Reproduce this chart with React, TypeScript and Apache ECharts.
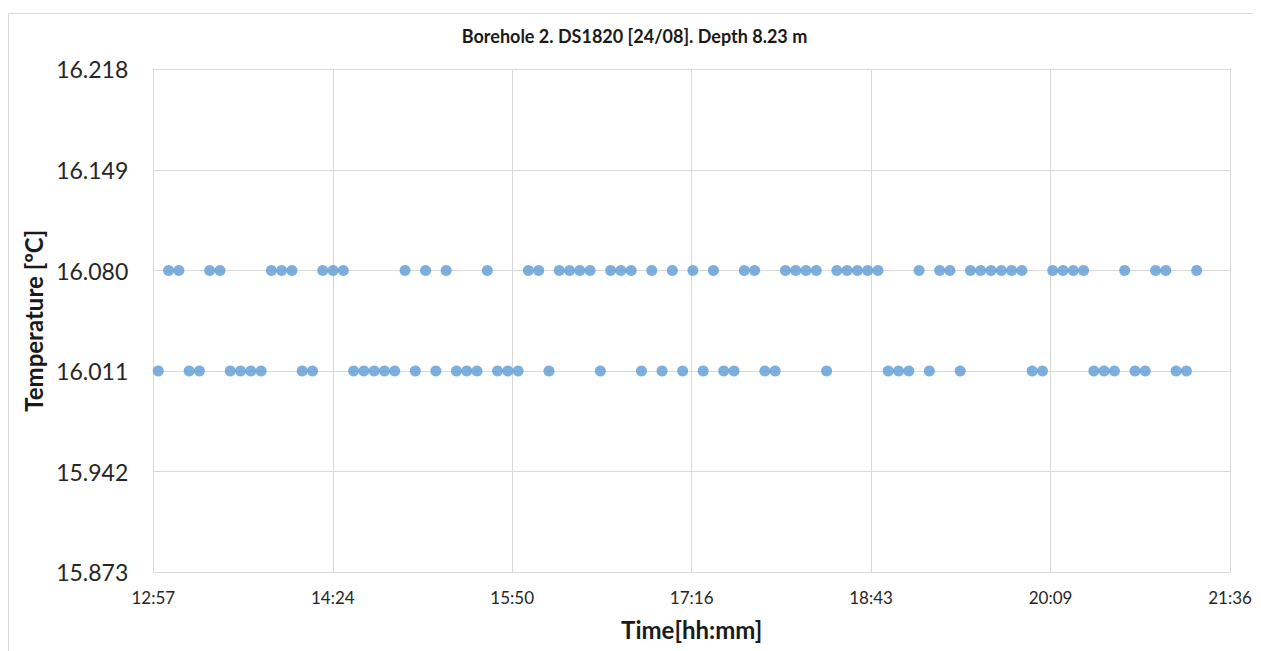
import React, { useEffect, useRef } from "react";
import * as echarts from "echarts";

const chartTitle = "Borehole 2. DS1820 [24/08]. Depth 8.23 m";
const xAxisTitle = "Time[hh:mm]";
const yAxisTitle = "Temperature [ºC]";

// Axis definitions (x in minutes after midnight, y in °C)
const xMinMinutes = 777.6; // 12:57
const xMaxMinutes = 1296; // 21:36
const xStepMinutes = 86.4;
const yMin = 15.873;
const yMax = 16.218;
const yStep = 0.069;

// Reading times
const times = [
  "13:00:00", "13:04:57", "13:09:54", "13:14:51", "13:19:48", "13:24:45", "13:29:42", "13:34:39", "13:39:36", "13:44:33",
  "13:49:30", "13:54:27", "13:59:24", "14:04:21", "14:09:18", "14:14:15", "14:19:12", "14:24:09", "14:29:06", "14:34:03",
  "14:39:00", "14:43:57", "14:48:54", "14:53:51", "14:58:48", "15:03:45", "15:08:42", "15:13:39", "15:18:36", "15:23:33",
  "15:28:30", "15:33:27", "15:38:24", "15:43:21", "15:48:18", "15:53:15", "15:58:12", "16:03:09", "16:08:06", "16:13:03",
  "16:18:00", "16:22:57", "16:27:54", "16:32:51", "16:37:48", "16:42:45", "16:47:42", "16:52:39", "16:57:36", "17:02:33",
  "17:07:30", "17:12:27", "17:17:24", "17:22:21", "17:27:18", "17:32:15", "17:37:12", "17:42:09", "17:47:06", "17:52:03",
  "17:57:00", "18:01:57", "18:06:54", "18:11:51", "18:16:48", "18:21:45", "18:26:42", "18:31:39", "18:36:36", "18:41:33",
  "18:46:30", "18:51:27", "18:56:24", "19:01:21", "19:06:18", "19:11:15", "19:16:12", "19:21:09", "19:26:06", "19:31:03",
  "19:36:00", "19:40:57", "19:45:54", "19:50:51", "19:55:48", "20:00:45", "20:05:42", "20:10:39", "20:15:36", "20:20:33",
  "20:25:30", "20:30:27", "20:35:24", "20:40:21", "20:45:18", "20:50:15", "20:55:12", "21:00:09", "21:05:06", "21:10:03",
  "21:15:00", "21:19:57",
];

// Temperatures (°C)
const temps = [
  16.011, 16.080, 16.080, 16.011, 16.011, 16.080, 16.080, 16.011, 16.011, 16.011,
  16.011, 16.080, 16.080, 16.080, 16.011, 16.011, 16.080, 16.080, 16.080, 16.011,
  16.011, 16.011, 16.011, 16.011, 16.080, 16.011, 16.080, 16.011, 16.080, 16.011,
  16.011, 16.011, 16.080, 16.011, 16.011, 16.011, 16.080, 16.080, 16.011, 16.080,
  16.080, 16.080, 16.080, 16.011, 16.080, 16.080, 16.080, 16.011, 16.080, 16.011,
  16.080, 16.011, 16.080, 16.011, 16.080, 16.011, 16.011, 16.080, 16.080, 16.011,
  16.011, 16.080, 16.080, 16.080, 16.080, 16.011, 16.080, 16.080, 16.080, 16.080,
  16.080, 16.011, 16.011, 16.011, 16.080, 16.011, 16.080, 16.080, 16.011, 16.080,
  16.080, 16.080, 16.080, 16.080, 16.080, 16.011, 16.011, 16.080, 16.080, 16.080,
  16.080, 16.011, 16.011, 16.011, 16.080, 16.011, 16.011, 16.080, 16.080, 16.011,
  16.011, 16.080,
];

// x is stored in tenths of a minute, y in thousandths of a degree above yMin
const toX = (t: string) => {
  const [h, m, s] = t.split(":").map(Number);
  return (h * 60 + m + s / 60) * 10;
};
const toY = (v: number) => Math.round(v * 1000 - yMin * 1000);

const fmtTime = (v: number) => {
  const tenths = Math.round(v);
  const mins = Math.floor(tenths / 10);
  const h = Math.floor(mins / 60);
  const m = mins % 60;
  return `${h}:${m < 10 ? "0" : ""}${m}`;
};

const FONT = "Lato, 'Open Sans', sans-serif";
const GRID = "#d9d9d9";

export default function App() {
  const ref = useRef<HTMLDivElement>(null);
  useEffect(() => {
    if (!ref.current) return;
    const chart = echarts.init(ref.current, undefined, { renderer: "svg" });
    const data = times.map((t, i) => [toX(t), toY(temps[i])]);
    chart.setOption({
      animation: false,
      backgroundColor: "#ffffff",
      textStyle: { fontFamily: FONT },
      title: {
        text: chartTitle,
        left: "center",
        top: 14,
        textStyle: { fontFamily: FONT, fontSize: 18, fontWeight: "bold", color: "#1a1a1a" },
      },
      graphic: [
        {
          type: "line",
          shape: { x1: 0.5, y1: 5.5, x2: 1253, y2: 5.5 },
          style: { stroke: GRID, lineWidth: 1 },
          silent: true,
        },
        {
          type: "line",
          shape: { x1: 0.5, y1: 5.5, x2: 0.5, y2: 643 },
          style: { stroke: GRID, lineWidth: 1 },
          silent: true,
        },
      ],
      grid: {
        left: 145.3,
        right: 31,
        top: 61.3,
        bottom: 78.7,
        containLabel: false,
        outerBoundsMode: "none",
      },
      xAxis: {
        type: "value",
        min: xMinMinutes * 10,
        max: xMaxMinutes * 10,
        interval: xStepMinutes * 10,
        name: xAxisTitle,
        nameLocation: "middle",
        nameGap: 45,
        nameTextStyle: { fontFamily: FONT, fontSize: 24, fontWeight: "bold", color: "#1a1a1a" },
        axisLine: { show: true, lineStyle: { color: GRID, width: 1 } },
        axisTick: { show: false },
        axisLabel: { fontFamily: FONT, fontSize: 17, color: "#262626", margin: 17, formatter: fmtTime },
        splitLine: { show: true, lineStyle: { color: GRID, width: 1 } },
      },
      yAxis: {
        type: "value",
        min: 0,
        max: Math.round((yMax - yMin) * 1000),
        interval: Math.round(yStep * 1000),
        name: yAxisTitle,
        nameLocation: "middle",
        nameRotate: 90,
        nameGap: 98,
        nameTextStyle: { fontFamily: FONT, fontSize: 24, fontWeight: "bold", color: "#1a1a1a" },
        axisLine: { show: true, lineStyle: { color: GRID, width: 1 } },
        axisTick: { show: false },
        axisLabel: {
          fontFamily: FONT,
          fontSize: 23,
          color: "#262626",
          margin: 25,
          formatter: (v: number) => ((yMin * 1000 + v) / 1000).toFixed(3),
        },
        splitLine: { show: true, lineStyle: { color: GRID, width: 1 } },
      },
      series: [
        {
          type: "scatter",
          data,
          symbol: "circle",
          symbolSize: 11,
          itemStyle: { color: "#5b9bd5" },
        },
      ],
    });
    return () => chart.dispose();
  }, []);
  return <div ref={ref} style={{ width: 1253, height: 643 }} />;
}
